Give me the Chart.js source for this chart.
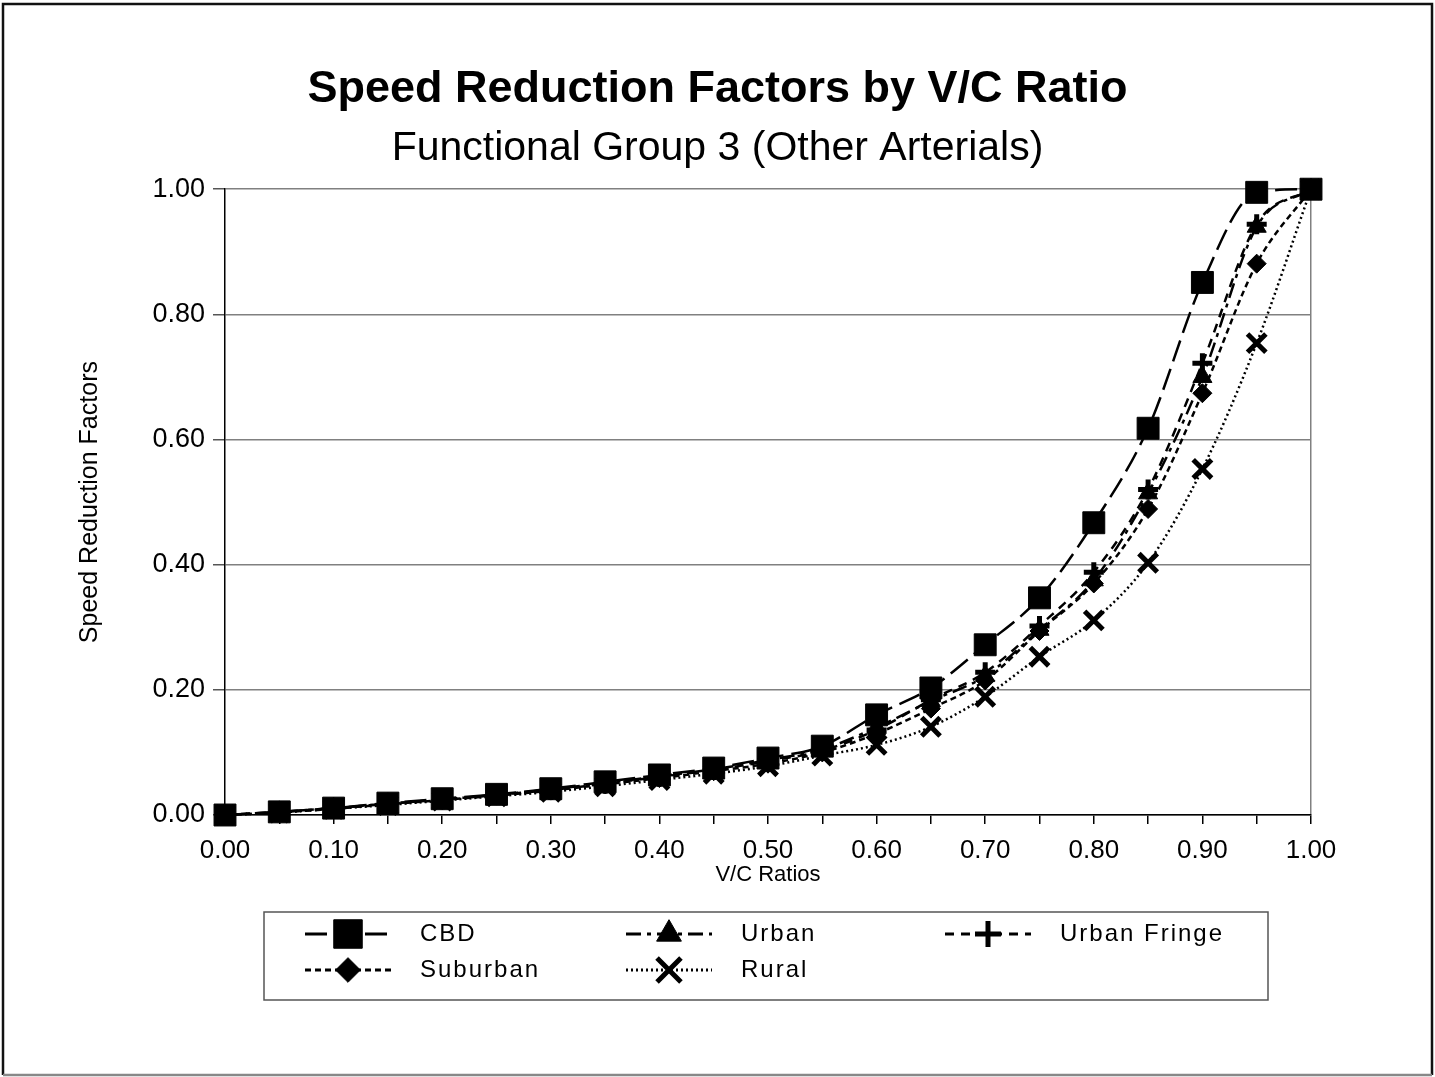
<!DOCTYPE html>
<html lang="en">
<head>
    <meta charset="UTF-8">
    <title>Speed Reduction Factors by V/C Ratio</title>
    <script src="https://cdn.jsdelivr.net/npm/chart.js"></script>
    <style>
        body { margin: 0; background: #fff; }
        #chartWrap { width: 1435px; height: 1077px; }
    </style>
</head>
<body>
    <div id="chartWrap">
        <canvas id="srfChart" width="1435" height="1077"></canvas>
    </div>
    <script>
        // V/C ratio categories
        const vcRatios = ['0.00', '0.05', '0.10', '0.15', '0.20', '0.25', '0.30', '0.35', '0.40', '0.45', '0.50',
                          '0.55', '0.60', '0.65', '0.70', '0.75', '0.80', '0.85', '0.90', '0.95', '1.00'];

        // speed reduction factors
        const cbd         = [0, 0.005, 0.011, 0.019, 0.026, 0.033, 0.042, 0.053, 0.064, 0.075, 0.091,
                             0.110, 0.160, 0.203, 0.272, 0.347, 0.467, 0.618, 0.851, 0.995, 1.00];
        const urban       = [0, 0.005, 0.011, 0.018, 0.025, 0.032, 0.041, 0.051, 0.062, 0.073, 0.088,
                             0.105, 0.140, 0.182, 0.222, 0.296, 0.375, 0.514, 0.700, 0.940, 1.00];
        const urbanFringe = [0, 0.005, 0.011, 0.018, 0.025, 0.032, 0.040, 0.050, 0.061, 0.072, 0.086,
                             0.103, 0.136, 0.184, 0.228, 0.302, 0.388, 0.520, 0.722, 0.944, 1.00];
        const suburban    = [0, 0.004, 0.010, 0.017, 0.024, 0.031, 0.039, 0.049, 0.059, 0.070, 0.082,
                             0.100, 0.130, 0.170, 0.215, 0.294, 0.370, 0.489, 0.674, 0.881, 1.00];
        const rural       = [0, 0.004, 0.010, 0.016, 0.023, 0.030, 0.037, 0.046, 0.056, 0.066, 0.078,
                             0.095, 0.112, 0.141, 0.189, 0.253, 0.311, 0.403, 0.553, 0.754, 1.00];

        const yTicks = [0, 0.2, 0.4, 0.6, 0.8, 1.0];

        const FONT = "'Liberation Sans', Arial, sans-serif";
        Chart.defaults.font.family = FONT;
        Chart.defaults.color = '#000';

        function series(label, data, dash, style, radius, width) {
            return {
                label: label,
                data: data,
                borderColor: '#000',
                backgroundColor: '#000',
                borderWidth: 2.5,
                borderDash: dash,
                cubicInterpolationMode: 'monotone',
                pointStyle: style,
                pointRadius: radius,
                pointHoverRadius: radius,
                pointBorderWidth: width,
                pointBackgroundColor: '#000',
                pointBorderColor: '#000',
                clip: false,
                fill: false
            };
        }

        // white background + outer frame
        const frame = {
            id: 'frame',
            beforeDraw(chart) {
                const ctx = chart.ctx;
                ctx.save();
                ctx.fillStyle = '#fff';
                ctx.fillRect(0, 0, chart.width, chart.height);
                ctx.restore();
            },
            afterDraw(chart) {
                const ctx = chart.ctx;
                ctx.save();
                ctx.lineWidth = 2.5;
                ctx.strokeStyle = '#111';
                ctx.beginPath();
                ctx.moveTo(3, 1075);
                ctx.lineTo(3, 4);
                ctx.lineTo(1432, 4);
                ctx.lineTo(1432, 1075);
                ctx.stroke();
                ctx.strokeStyle = '#888';
                ctx.beginPath();
                ctx.moveTo(3, 1075);
                ctx.lineTo(1432, 1075);
                ctx.stroke();
                ctx.restore();
            }
        };

        // legend drawn like the spreadsheet one: dashed sample with marker
        const legendSlots = [[305, 934], [626, 934], [945, 934], [305, 970], [626, 970]];
        const sampleLen = 86;
        const boxedLegend = {
            id: 'boxedLegend',
            afterDraw(chart) {
                const ctx = chart.ctx;
                ctx.save();
                ctx.strokeStyle = '#555';
                ctx.lineWidth = 1.5;
                ctx.strokeRect(264, 912, 1004, 88);

                chart.data.datasets.forEach((ds, i) => {
                    const [x0, y] = legendSlots[i];
                    ctx.strokeStyle = '#000';
                    ctx.fillStyle = '#000';
                    ctx.lineWidth = 3;
                    ctx.setLineDash(ds.borderDash);
                    ctx.beginPath();
                    ctx.moveTo(x0, y);
                    ctx.lineTo(x0 + sampleLen, y);
                    ctx.stroke();
                    ctx.setLineDash([]);
                    ctx.lineWidth = ds.pointBorderWidth;
                    Chart.helpers.drawPoint(ctx, {
                        pointStyle: ds.pointStyle,
                        radius: ds.pointRadius * 1.3,
                        borderWidth: ds.pointBorderWidth,
                        rotation: 0
                    }, x0 + sampleLen / 2, y);

                    ctx.font = '24px ' + FONT;
                    ctx.letterSpacing = '2px';
                    ctx.textBaseline = 'middle';
                    ctx.fillText(ds.label, x0 + 115, y);
                    ctx.letterSpacing = '0px';
                });
                ctx.restore();
            }
        };

        const ctx = document.getElementById('srfChart').getContext('2d');
        const srfChart = new Chart(ctx, {
            type: 'line',
            data: {
                labels: vcRatios,
                datasets: [
                    series('CBD', cbd, [22, 8], 'rect', 15.5, 1),
                    series('Urban', urban, [15, 6, 4, 6], 'triangle', 11, 1),
                    series('Urban Fringe', urbanFringe, [9, 7], 'cross', 10, 5),
                    series('Suburban', suburban, [6, 4], 'rectRot', 9.5, 1),
                    series('Rural', rural, [2, 3], 'crossRot', 13, 5)
                ]
            },
            options: {
                responsive: false,
                animation: false,
                layout: {
                    padding: { top: 0, left: 0, right: 0, bottom: 189 }
                },
                plugins: {
                    legend: { display: false },
                    tooltip: { enabled: false },
                    title: {
                        display: true,
                        text: 'Speed Reduction Factors by V/C Ratio',
                        font: { size: 45, weight: 'bold' },
                        color: '#000',
                        padding: { top: 63, bottom: 6 }
                    },
                    subtitle: {
                        display: true,
                        text: 'Functional Group 3 (Other Arterials)',
                        font: { size: 41 },
                        color: '#000',
                        padding: { top: 1, bottom: 16 }
                    }
                },
                scales: {
                    x: {
                        type: 'category',
                        offset: false,
                        border: { color: '#000', width: 1.5 },
                        grid: {
                            drawOnChartArea: true,
                            color: (c) => c.index === vcRatios.length - 1 ? '#808080' : 'rgba(0,0,0,0)',
                            lineWidth: 1.5,
                            tickColor: '#000',
                            tickLength: 9
                        },
                        ticks: {
                            autoSkip: false,
                            maxRotation: 0,
                            padding: 11,
                            font: { size: 26 },
                            callback: (v, i) => i % 2 === 0 ? vcRatios[i] : ''
                        },
                        title: {
                            display: true,
                            text: 'V/C Ratios',
                            font: { size: 22 },
                            padding: { top: 1, bottom: 0 }
                        },
                        afterFit(scale) {
                            scale.height = 73;
                            scale.paddingLeft = 0;
                            scale.paddingRight = 124;
                        }
                    },
                    y: {
                        min: 0,
                        max: 1,
                        border: { color: '#000', width: 1.5 },
                        grid: {
                            color: '#808080',
                            lineWidth: 1.5,
                            tickColor: '#555',
                            tickLength: 12
                        },
                        afterBuildTicks(scale) {
                            scale.ticks = yTicks.map(v => ({ value: v }));
                        },
                        ticks: {
                            padding: 8,
                            font: { size: 27 },
                            callback: (v) => Number(v).toFixed(2)
                        },
                        title: {
                            display: true,
                            text: 'Speed Reduction Factors',
                            font: { size: 25 },
                            padding: { top: 75, bottom: 0 }
                        },
                        afterFit(scale) {
                            scale.width = 225;
                            scale.paddingTop = 0;
                            scale.paddingBottom = 0;
                        }
                    }
                }
            },
            plugins: [frame, boxedLegend]
        });
    </script>
</body>
</html>
